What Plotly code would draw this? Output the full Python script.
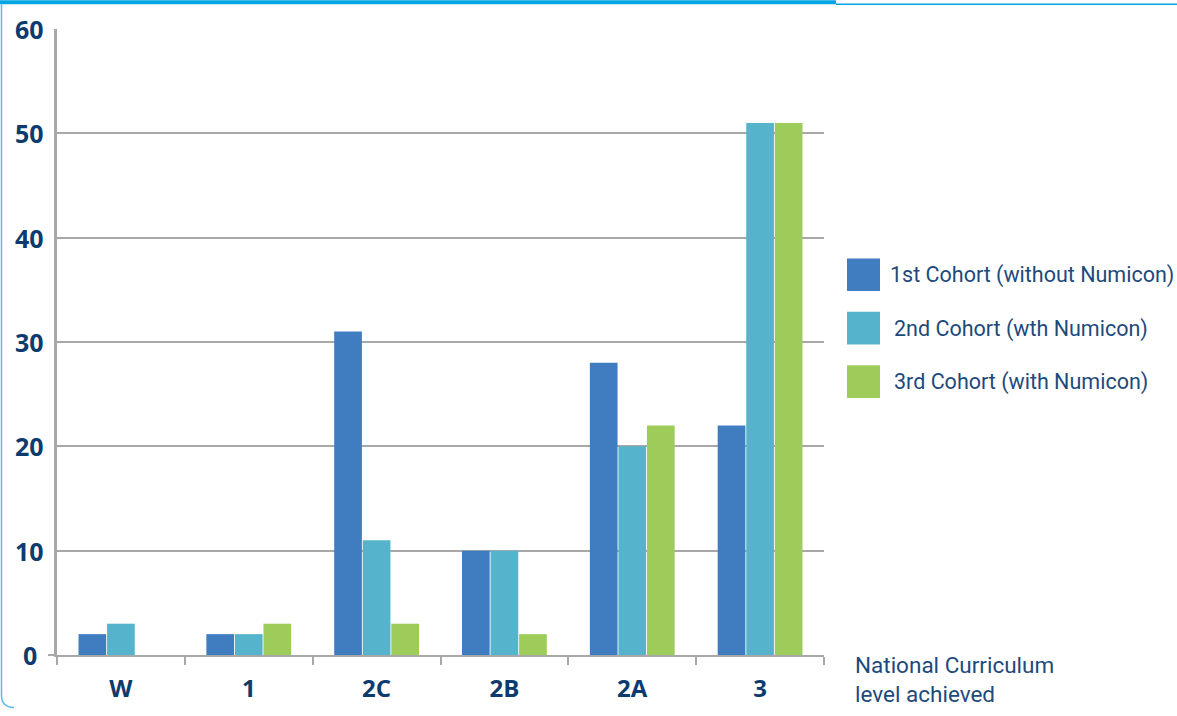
import plotly.graph_objects as go

# National Curriculum levels reached by each cohort
levels = ["W", "1", "2C", "2B", "2A", "3"]
cohort1 = [2, 2, 31, 10, 28, 22]
cohort2 = [3, 2, 11, 10, 20, 51]
cohort3 = [0, 3, 3, 2, 22, 51]
series_names = [
    "1st Cohort (without Numicon)",
    "2nd Cohort (wth Numicon)",
    "3rd Cohort (with Numicon)",
]
y_ticks = [0, 10, 20, 30, 40, 50, 60]

colors = ["#3f7cc0", "#56b3cc", "#9dcc5a"]
navy = "#0d3b6e"
text_navy = "#1d4a7c"
grid_grey = "#a8a8a8"

W, H = 1177, 716
L, R, T, B = 57, 353, 29, 54
PW, PH = W - L - R, H - T - B


def px(x):
    return (x - L) / PW


def py(y):
    return (H - B - y) / PH


fig = go.Figure()
for name, vals, col in zip(series_names, [cohort1, cohort2, cohort3], colors):
    fig.add_trace(go.Bar(
        x=levels, y=vals, name=name,
        marker=dict(color=col, line=dict(width=0)),
        showlegend=False,
    ))

shapes = []
annotations = []

# frame: thick top band, thin continuation, light left edge with rounded corner
shapes.append(dict(type="rect", xref="paper", yref="paper",
                   x0=px(0), x1=px(836), y0=py(0), y1=py(4),
                   fillcolor="#00a6e3", line=dict(width=0), layer="above"))
shapes.append(dict(type="line", xref="paper", yref="paper",
                   x0=px(836), x1=px(1177), y0=py(4), y1=py(4),
                   line=dict(color="#00a6e3", width=1.5)))
shapes.append(dict(type="path", xref="paper", yref="paper",
                   path=f"M {px(1.5)},{py(4)} L {px(1.5)},{py(703)} "
                        f"Q {px(1.5)},{py(715)} {px(14)},{py(715)}",
                   line=dict(color="#5bbbe6", width=1.5)))

# short stub left of the origin
shapes.append(dict(type="line", xref="paper", yref="paper",
                   x0=px(48), x1=px(57), y0=0, y1=0,
                   line=dict(color=grid_grey, width=2)))

# y tick labels, centred in the left gutter and placed on the y scale
for v in y_ticks:
    annotations.append(dict(xref="paper", yref="y", x=px(29.5), y=v,
                            text=str(v), showarrow=False,
                            xanchor="center", yanchor="middle",
                            font=dict(family="Open Sans", size=25, color=navy,
                                      weight="bold")))

label_font = "Roboto"

# legend drawn as swatches with labels
legend_y = [277, 331, 385]
legend_tx = [888, 892, 892]
for name, col, yc, tx in zip(series_names, colors, legend_y, legend_tx):
    shapes.append(dict(type="rect", xref="paper", yref="paper",
                       x0=px(847), x1=px(880), y0=py(yc - 16), y1=py(yc + 17),
                       fillcolor=col, line=dict(width=0)))
    annotations.append(dict(xref="paper", yref="paper", x=px(tx), y=py(yc + 1),
                            text=name, showarrow=False, xanchor="left",
                            yanchor="middle",
                            font=dict(family=label_font, size=21.5,
                                      color=text_navy)))

# axis caption
annotations.append(dict(xref="paper", yref="paper", x=px(853), y=py(657),
                        text="National Curriculum<br>level achieved",
                        showarrow=False, xanchor="left", yanchor="top",
                        align="left",
                        font=dict(family=label_font, size=22.5,
                                  color=text_navy)))

fig.update_layout(
    width=W, height=H,
    margin=dict(l=L, r=R, t=T, b=B, pad=0),
    paper_bgcolor="white", plot_bgcolor="white",
    barmode="group", bargap=0.33, bargroupgap=0.03,
    shapes=shapes, annotations=annotations,
    font=dict(family="Open Sans", color=navy),
)
fig.update_xaxes(
    showline=True, linecolor=grid_grey, linewidth=2,
    ticks="outside", tickson="boundaries", ticklen=8, tickwidth=2,
    tickcolor=grid_grey, showgrid=False,
    tickfont=dict(family="Open Sans", size=24, color=navy, weight="bold"),
    ticklabelstandoff=11,
)
fig.update_yaxes(
    range=[0, 60], tickvals=y_ticks, showticklabels=False,
    showline=True, linecolor=grid_grey, linewidth=2.5,
    showgrid=True, gridcolor=grid_grey, gridwidth=2,
    zeroline=False, ticks="",
)

fig.write_html("out.html")
